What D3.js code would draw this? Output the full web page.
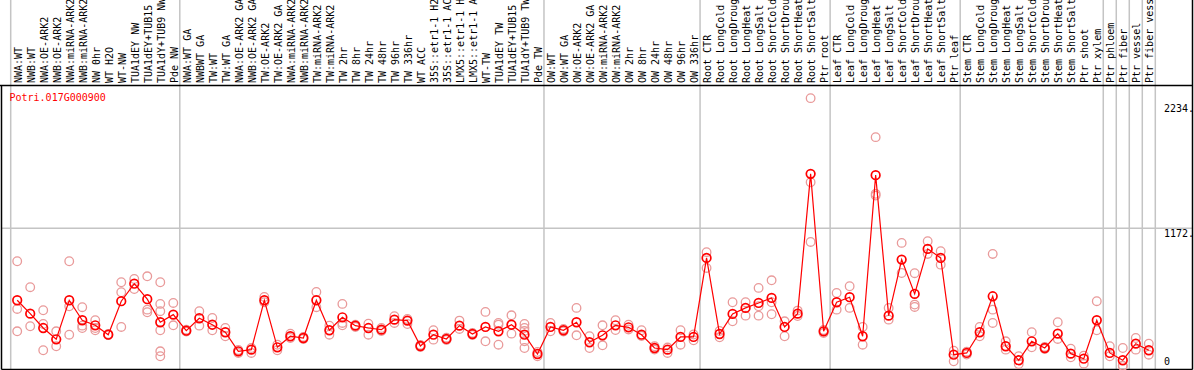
<!DOCTYPE html>
<html>
<head>
<meta charset="utf-8">
<script src="https://cdn.jsdelivr.net/npm/d3@7"></script>
<style>
  body { margin: 0; background: #fff; }
  svg { display: block; }
</style>
</head>
<body>
<div id="mainDiv"></div>
<script>
// Data
const geneId = "Potri.017G000900";

const sampleLabels = [
  "NWA:WT", "NWB:WT", "NWA:OE-ARK2", "NWB:OE-ARK2", "NWA:miRNA-ARK2", "NWB:miRNA-ARK2",
  "NW 0hr", "WT H2O", "WT-NW", "TUA1dEY NW", "TUA1dEY+TUB15", "TUA1dY+TUB9 NW", "Pde NW",
  "NWA:WT GA", "NWBWT GA", "TW:WT", "TW:WT GA", "NWA:OE-ARK2 GA", "NWB:OE-ARK2 GA",
  "TW:OE-ARK2", "TW:OE-ARK2 GA", "NWA:miRNA-ARK2", "NWB:miRNA-ARK2", "TW:miRNA-ARK2",
  "TW:miRNA-ARK2", "TW 2hr", "TW 8hr", "TW 24hr", "TW 48hr", "TW 96hr", "TW 336hr",
  "WT ACC", "35S::etr1-1 H2", "35S::etr1-1 AC", "LMX5::etr1-1 H", "LMX5::etr1-1 A",
  "WT-TW", "TUA1dEY TW", "TUA1dEY+TUB15", "TUA1dY+TUB9 TW", "Pde TW",
  "OW:WT", "OW:WT GA", "OW:OE-ARK2", "OW:OE-ARK2 GA", "OW:miRNA-ARK2", "OW:miRNA-ARK2",
  "OW 2hr", "OW 8hr", "OW 24hr", "OW 48hr", "OW 96hr", "OW 336hr",
  "Root CTR", "Root LongCold", "Root LongDroug", "Root LongHeat", "Root LongSalt",
  "Root ShortCold", "Root ShortDrou", "Root ShortHeat", "Root ShortSalt", "Ptr root",
  "Leaf CTR", "Leaf LongCold", "Leaf LongDroug", "Leaf LongHeat", "Leaf LongSalt",
  "Leaf ShortCold", "Leaf ShortDrou", "Leaf ShortHeat", "Leaf ShortSalt", "Ptr leaf",
  "Stem CTR", "Stem LongCold", "Stem LongDroug", "Stem LongHeat", "Stem LongSalt",
  "Stem ShortCold", "Stem ShortDrou", "Stem ShortHeat", "Stem ShortSalt", "Ptr shoot", "Ptr xylem",
  "Ptr phloem", "Ptr fiber", "Ptr vessel", "Ptr fiber vess"
];

const groupSizes = [13, 28, 12, 10, 10, 11, 1, 1, 1, 1];

const meanValues = [
  559, 445, 323, 227, 559, 389, 346, 266, 551, 700, 568, 372, 437,
  300, 406, 351, 287, 125, 139, 559, 159, 253, 238, 559, 304, 414, 343, 323, 309,
  394, 386, 170, 266, 230, 343, 272, 332, 295, 351, 266, 102,
  332, 304, 372, 202, 261, 346, 329, 266, 153, 139, 247, 247,
  919, 272, 443, 494, 536, 579, 332, 445, 1634, 295,
  542, 585, 253, 1623, 428, 905, 613, 996, 919, 96,
  111, 287, 593, 168, 49, 210, 153, 275, 105, 62, 389,
  111, 49, 190, 134
];

const replicateValues = [
  [891, 485, 295], [670, 338], [474, 357, 134], [295, 168], [891, 508, 266],
  [500, 343, 323], [389, 304, 323], [272, 264], [712, 627, 332], [740, 655],
  [763, 479, 457], [712, 528, 466, 304, 125, 83], [536, 346],
  [309, 294], [466, 343], [408, 304], [323, 253], [136, 111], [111, 153],
  [587, 542], [181, 134], [275, 238], [247, 230], [630, 500], [343, 266],
  [528, 366, 346], [351, 332], [360, 266], [323, 298], [423, 366], [400, 357],
  [179, 162], [304, 224], [241, 221], [386, 315], [281, 264], [460, 210],
  [366, 351, 181], [431, 275], [357, 323, 298, 210, 153], [83, 119],
  [366, 295], [315, 294], [494, 261], [253, 153], [346, 176], [389, 306],
  [351, 311], [304, 255], [168, 140], [111, 157], [304, 181], [219, 268],
  [968, 834], [244, 298], [542, 380], [542, 428], [664, 428, 508], [729, 440, 542],
  [380, 253], [471, 425], [2278, 1563, 1055], [281, 306],
  [621, 479], [678, 494], [332, 181], [1946, 1464, 1449], [494, 394],
  [1047, 791], [789, 522, 502], [1061, 953], [976, 862], [130, 40],
  [122, 98], [332, 253], [953, 479, 366], [210, 139], [83, 17], [287, 159],
  [162, 145], [372, 230], [147, 74], [88, 20], [551, 304],
  [168, 83], [153, 3, 0], [238, 139], [190, 96]
];

const yTickValues = [0, 1172, 2234];
const yTickLabels = ["0", "1172.", "2234."];

// Layout
const chartSize = { width: 1194, height: 370, plotTop: 85.5, plotBottom: 369.5, left: 1.5, right: 1192.5 };
const mono = "'DejaVu Sans Mono', 'Liberation Mono', monospace";

const svg = d3.select("#mainDiv")
  .append("svg")
  .attr("width", chartSize.width)
  .attr("height", chartSize.height);

const x = d3.scaleBand()
  .domain(d3.range(sampleLabels.length))
  .range([10.7, 1155.3])
  .padding(0);

const y = d3.scaleLinear()
  .domain([0, 2234])
  .range([366, 103.3]);

const cx = i => x(i) + x.bandwidth() / 2;

// group separators
let boundaries = [0];
groupSizes.forEach(n => boundaries.push(boundaries[boundaries.length - 1] + n));

svg.append("g")
  .selectAll("line")
  .data(boundaries)
  .join("line")
  .attr("x1", d => d < sampleLabels.length ? x(d) : x(d - 1) + x.bandwidth())
  .attr("x2", d => d < sampleLabels.length ? x(d) : x(d - 1) + x.bandwidth())
  .attr("y1", 0)
  .attr("y2", chartSize.height)
  .attr("stroke", "#c4c4c4")
  .attr("stroke-width", 1.5);

// horizontal grid line at middle tick
svg.append("line")
  .attr("x1", chartSize.left)
  .attr("x2", chartSize.right)
  .attr("y1", y(1172))
  .attr("y2", y(1172))
  .attr("stroke", "#c4c4c4")
  .attr("stroke-width", 1.5);

// frame
const frame = svg.append("g").attr("stroke", "#000").attr("stroke-width", 1.5);
frame.append("line").attr("x1", 0).attr("x2", chartSize.right).attr("y1", chartSize.plotTop).attr("y2", chartSize.plotTop);
frame.append("line").attr("x1", chartSize.left).attr("x2", chartSize.right).attr("y1", chartSize.plotBottom).attr("y2", chartSize.plotBottom);
frame.append("line").attr("x1", chartSize.left).attr("x2", chartSize.left).attr("y1", chartSize.plotTop).attr("y2", chartSize.plotBottom);
frame.append("line").attr("x1", chartSize.right).attr("x2", chartSize.right).attr("y1", 0).attr("y2", chartSize.plotBottom);

// sample labels (vertical)
svg.append("g")
  .selectAll("text")
  .data(sampleLabels)
  .join("text")
  .attr("transform", (d, i) => `translate(${cx(i) + 4.5},83) rotate(-90)`)
  .attr("font-family", mono)
  .attr("font-size", 10)
  .attr("fill", "#000")
  .text(d => d);

// y axis on the right
const yAxis = g => g
  .attr("transform", `translate(1164,0)`)
  .call(d3.axisRight(y)
    .tickValues(yTickValues)
    .tickFormat((d, i) => yTickLabels[i])
    .tickSize(0)
    .tickPadding(0))
  .call(g => g.select(".domain").remove())
  .call(g => g.selectAll("text")
    .attr("font-family", mono)
    .attr("font-size", 10)
    .attr("fill", "#000")
    .attr("dy", d => d == 0 ? "-0.2em" : "0.82em"));

svg.append("g").call(yAxis);

// gene id
svg.append("text")
  .attr("x", 9.5)
  .attr("y", 100.5)
  .attr("font-family", mono)
  .attr("font-size", 10)
  .attr("fill", "#ff0000")
  .text(geneId);

// replicate points
const repPoints = [];
replicateValues.forEach((vals, i) => vals.forEach(v => repPoints.push({ i: i, v: v })));

svg.append("g")
  .selectAll("circle")
  .data(repPoints)
  .join("circle")
  .attr("cx", d => cx(d.i))
  .attr("cy", d => y(d.v))
  .attr("r", 4.3)
  .attr("fill", "none")
  .attr("stroke", "#e99a9a")
  .attr("stroke-width", 1.3);

// mean line
const line = d3.line()
  .x((d, i) => cx(i))
  .y(d => y(d));

svg.append("path")
  .datum(meanValues)
  .attr("d", line)
  .attr("fill", "none")
  .attr("stroke", "#ff0000")
  .attr("stroke-width", 1.2);

svg.append("g")
  .selectAll("circle")
  .data(meanValues)
  .join("circle")
  .attr("cx", (d, i) => cx(i))
  .attr("cy", d => y(d))
  .attr("r", 4.3)
  .attr("fill", "none")
  .attr("stroke", "#ff0000")
  .attr("stroke-width", 1.7);
</script>
</body>
</html>
